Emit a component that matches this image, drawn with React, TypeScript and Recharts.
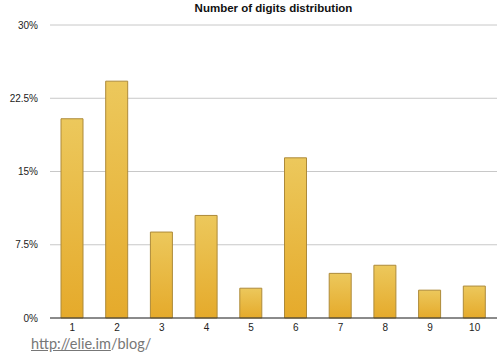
import { BarChart, Bar, XAxis, YAxis, CartesianGrid } from "recharts";

const digits = ["1", "2", "3", "4", "5", "6", "7", "8", "9", "10"];
const shares = [20.4, 24.25, 8.8, 10.5, 3.05, 16.4, 4.57, 5.4, 2.85, 3.27];
const yTicks = [0, 7.5, 15, 22.5, 30];

const data = digits.map((d, i) => ({ digits: d, share: shares[i] }));

export default function App() {
  return (
    <div
      style={{
        position: "absolute",
        left: 0,
        top: 0,
        width: 500,
        height: 359,
        background: "#fff",
        fontFamily: "'Liberation Sans', Arial, sans-serif",
      }}
    >
      <div
        style={{
          position: "absolute",
          top: 2,
          left: 50,
          width: 447,
          textAlign: "center",
          fontSize: 11.5,
          fontWeight: "bold",
          color: "#111",
        }}
      >
        Number of digits distribution
      </div>
      <BarChart
        width={500}
        height={359}
        data={data}
        margin={{ top: 25, right: 3, bottom: 21, left: 0 }}
      >
        <defs>
          <linearGradient id="barFill" x1="0" y1="0" x2="0" y2="1">
            <stop offset="0%" stopColor="#ecc85c" />
            <stop offset="100%" stopColor="#e5aa2b" />
          </linearGradient>
        </defs>
        <CartesianGrid vertical={false} stroke="#c8c8c8" />
        <XAxis
          dataKey="digits"
          height={20}
          axisLine={{ stroke: "#333" }}
          tickLine={false}
          tick={{ fontSize: 10, fill: "#222" }}
          tickSize={2}
          tickMargin={4}
        />
        <YAxis
          width={50}
          domain={[0, 30]}
          ticks={yTicks}
          axisLine={false}
          tickLine={false}
          tickMargin={6}
          tick={{ fontSize: 10, fill: "#222" }}
          tickFormatter={(v) => `${v}%`}
        />
        <Bar
          dataKey="share"
          barSize={22}
          fill="url(#barFill)"
          stroke="#ad8a3a"
          isAnimationActive={false}
        />
      </BarChart>
      <div
        style={{
          position: "absolute",
          left: 31,
          top: 336,
          fontSize: 14.5,
          lineHeight: "15px",
          color: "#777",
          fontFamily: "Lato, 'Open Sans', sans-serif",
        }}
      >
        <span style={{ textDecoration: "underline" }}>http://elie.im</span>/blog/
      </div>
    </div>
  );
}
